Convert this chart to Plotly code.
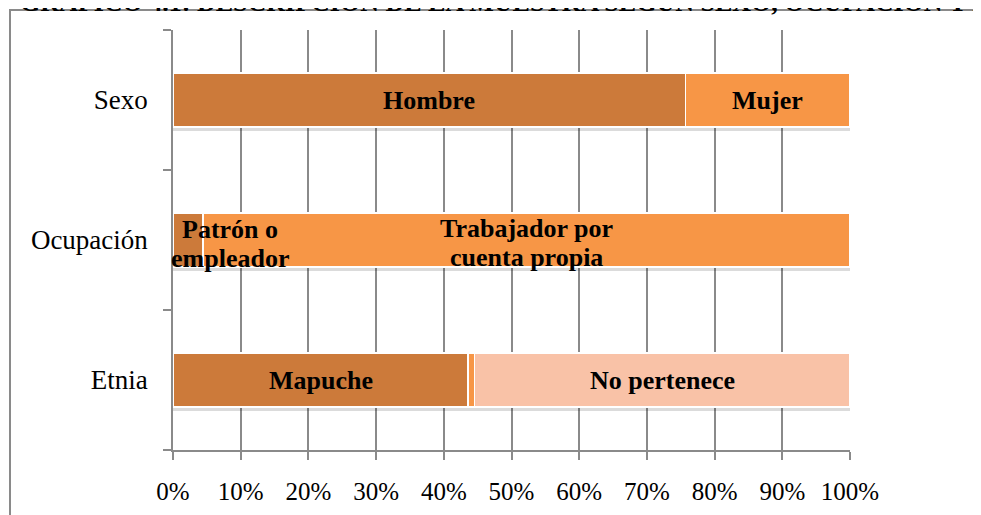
import plotly.graph_objects as go

categories = ["Etnia", "Ocupación", "Sexo"]
serie1 = [43.6, 4.4, 75.7]
serie2 = [0.9, 95.6, 24.3]
serie3 = [55.5, 0.0, 0.0]
colors = ["#CC7A3A", "#F79646", "#F9C2A7"]
x_ticks = [0, 10, 20, 30, 40, 50, 60, 70, 80, 90, 100]
x_tick_labels = [f"{v}%" for v in x_ticks]

labels = [
    ("Sexo", 0, ["Hombre"]),
    ("Sexo", 1, ["Mujer"]),
    ("Ocupación", 0, ["Patrón o", "empleador"]),
    ("Ocupación", 1, ["Trabajador por", "cuenta propia"]),
    ("Etnia", 0, ["Mapuche"]),
    ("Etnia", 2, ["No pertenece"]),
]

series = [serie1, serie2, serie3]
FONT = "Liberation Serif, Times New Roman, serif"

fig = go.Figure()
# soft shadow under bars (on hidden, slightly shifted axis drawn underneath)
for s in series:
    fig.add_trace(go.Bar(
        y=categories, x=s, orientation="h", yaxis="y",
        marker=dict(color="rgba(0,0,0,0.14)", line=dict(width=0)),
        width=0.386, hoverinfo="skip", showlegend=False))
for s, c in zip(series, colors):
    fig.add_trace(go.Bar(
        y=categories, x=s, orientation="h", yaxis="y2",
        marker=dict(color=c, line=dict(color="white", width=1.5)),
        width=0.386, showlegend=False))

annotations = []
for cat, si, lines in labels:
    ci = categories.index(cat)
    start = sum(series[k][ci] for k in range(si))
    end = start + series[si][ci]
    mid = (start + end) / 2
    n = len(lines)
    for li, txt in enumerate(lines):
        shift = (n - 1) / 2 * 29 - li * 29 - 3 if n > 1 else 0
        a = dict(x=mid, y=cat, xref="x", yref="y2", text=f"<b>{txt}</b>",
                 showarrow=False, yshift=shift, yanchor="middle",
                 font=dict(family=FONT, size=26, color="black"))
        if cat == "Ocupación" and si == 0:
            a.update(xshift=42, yshift=shift - 1)
        annotations.append(a)

annotations.append(dict(
    xref="paper", yref="paper", x=(18 - 173) / 677, y=(442 + 22) / 420,
    xanchor="left", yanchor="top", showarrow=False,
    text="<b>GRÁFICO 4.1: DESCRIPCIÓN DE LA MUESTRA SEGÚN SEXO, OCUPACIÓN Y ETNIA</b>",
    font=dict(family=FONT, size=26, color="black")))

axis_style = dict(showline=True, linecolor="#8A8A8A", linewidth=1.5,
                  ticks="outside", ticklen=8, tickcolor="#8A8A8A", tickwidth=1.5)

fig.update_layout(
    width=981, height=515,
    margin=dict(l=165, r=139, t=22, b=73),
    paper_bgcolor="white", plot_bgcolor="white",
    barmode="stack", bargap=0.6,
    annotations=annotations,
    font=dict(family=FONT, size=27, color="black"),
    xaxis=dict(range=[0, 100], tickvals=x_ticks, ticktext=x_tick_labels,
               showgrid=True, gridcolor="#8A8A8A", gridwidth=1.5,
               ticklabelstandoff=10, zeroline=False,
               tickfont=dict(family=FONT, size=25, color="black"), **axis_style),
    yaxis=dict(categoryorder="array", categoryarray=categories,
               range=[-0.5 + 0.03, 2.5 + 0.03], visible=False, showgrid=False),
    yaxis2=dict(overlaying="y", side="left",
                categoryorder="array", categoryarray=categories,
                range=[-0.5, 2.5], showgrid=False,
                tickson="boundaries", ticklabelstandoff=18,
                tickfont=dict(family=FONT, size=27, color="black"), **axis_style),
    shapes=[dict(type="rect", xref="paper", yref="paper",
                 x0=(10 - 173) / 677, x1=2, y0=-1, y1=(450 - 10) / 420,
                 line=dict(color="#8A8A8A", width=2), fillcolor="rgba(0,0,0,0)",
                 layer="below")],
)

fig.write_html("out.html")
